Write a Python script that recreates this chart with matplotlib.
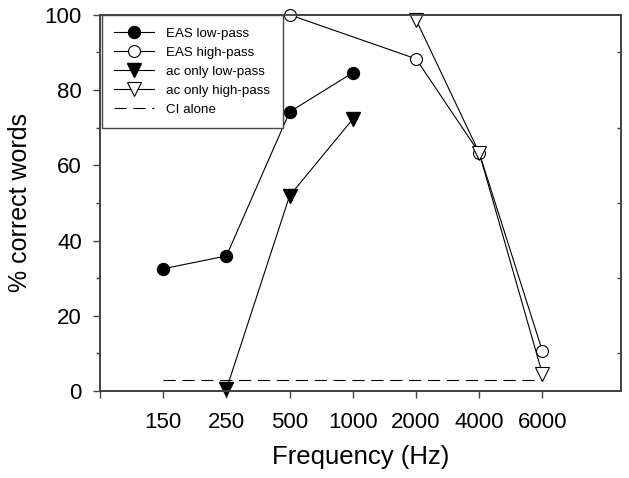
import matplotlib
matplotlib.use("Agg")
import matplotlib.pyplot as plt

plt.rcParams['font.family'] = ['Liberation Sans', 'DejaVu Sans']

freqs = ["150", "250", "500", "1000", "2000", "4000", "6000"]

# x positions are category indices into freqs
eas_low_x = [0, 1, 2, 3]
eas_low_y = [32.5, 35.9, 74.2, 84.6]
eas_high_x = [2, 4, 5, 6]
eas_high_y = [100.0, 88.3, 63.3, 10.6]
ac_low_x = [1, 2, 3]
ac_low_y = [0.5, 51.9, 72.3]
ac_high_x = [4, 5, 6]
ac_high_y = [98.7, 63.3, 4.5]
ci_x = [0, 6]
ci_y = [2.9, 2.9]

fig = plt.figure(figsize=(6.29, 4.78), dpi=100)
ax = fig.add_axes([0.159, 0.182, 0.829, 0.787])

ms = 8.6
lw = 0.8
ax.plot(eas_low_x, eas_low_y, "-o", color="black", mfc="black", mec="black",
        ms=ms, lw=lw, label="EAS low-pass", clip_on=False, zorder=3)
ax.plot(eas_high_x, eas_high_y, "-o", color="black", mfc="white", mec="black",
        ms=ms, lw=lw, mew=0.8, label="EAS high-pass", clip_on=False, zorder=3)
ax.plot(ac_low_x, ac_low_y, "-v", color="black", mfc="black", mec="black",
        ms=ms + 1, lw=lw, label="ac only low-pass", clip_on=False, zorder=3)
ax.plot(ac_high_x, ac_high_y, "-v", color="black", mfc="white", mec="black",
        ms=ms + 1, lw=lw, mew=0.8, label="ac only high-pass", clip_on=False, zorder=3)
ci, = ax.plot(ci_x, ci_y, color="black", lw=lw, label="CI alone")
ci.set_dashes((11, 6))

ax.set_xlim(-1, 7.25)
ax.set_ylim(0, 100)
ax.set_xticks(range(-1, len(freqs)))
ax.set_xticklabels([""] + freqs)
ax.set_yticks([0, 20, 40, 60, 80, 100])
ax.set_yticks([10, 30, 50, 70, 90], minor=True)

gray = "#444444"
ax.tick_params(axis="x", direction="out", length=5, width=1, labelsize=16,
               pad=10, color=gray)
ax.tick_params(axis="y", which="major", direction="out", length=5, width=1,
               labelsize=16, pad=8, color=gray)
ax.tick_params(axis="y", which="minor", direction="out", length=3, width=1,
               color=gray)

# right axis: short inward ticks at the odd tens only
ax2 = ax.twinx()
ax2.set_ylim(ax.get_ylim())
ax2.set_yticks([])
ax2.set_yticks([10, 30, 50, 70, 90], minor=True)
ax2.tick_params(axis="y", which="minor", direction="in", length=3, width=1,
                color=gray, labelright=False)

for a in (ax, ax2):
    for s in a.spines.values():
        s.set_color(gray)
        s.set_linewidth(1.3)

ax.set_xlabel("Frequency (Hz)", fontsize=18.5, labelpad=9)
ax.set_ylabel("% correct words", fontsize=18, labelpad=9)

leg = ax.legend(loc="upper left", bbox_to_anchor=(0.003, 1.0), borderaxespad=0,
                fontsize=9.6, handlelength=3.0, fancybox=False, framealpha=1,
                edgecolor=gray, labelspacing=0.5, handletextpad=0.9,
                borderpad=0.95)
leg.get_frame().set_linewidth(1.0)

fig.savefig("out.png", dpi=100)
